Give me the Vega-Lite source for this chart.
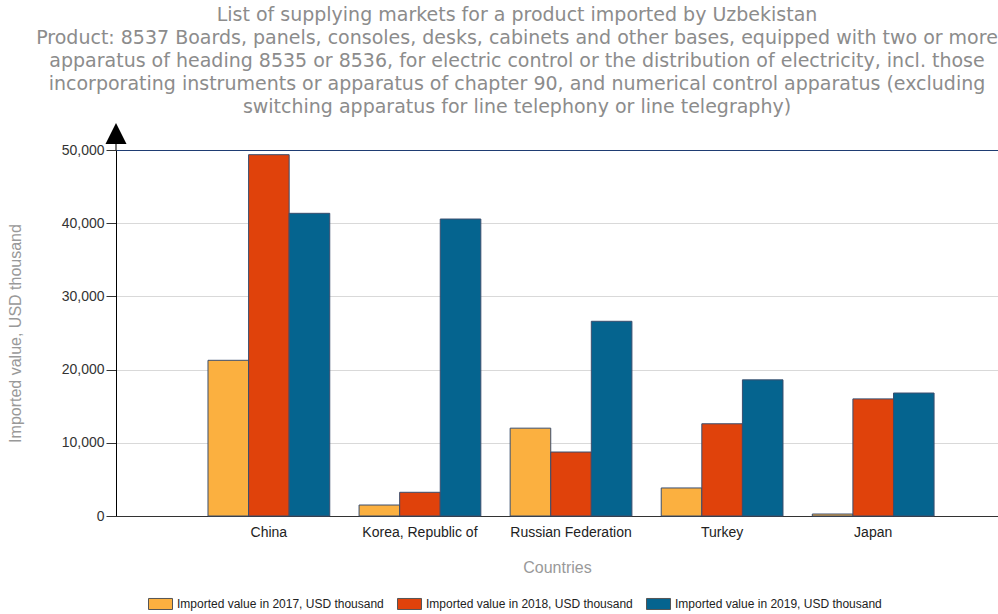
{
  "$schema": "https://vega.github.io/schema/vega-lite/v6.json",
  "width": 882,
  "height": 366,
  "autosize": {"type": "none"},
  "padding": {"left": 116, "top": 150, "right": 0, "bottom": 98},
  "background": "white",
  "title": {
    "text": [
      "List of supplying markets for a product imported by Uzbekistan",
      "Product: 8537 Boards, panels, consoles, desks, cabinets and other bases, equipped with two or more",
      "apparatus of heading 8535 or 8536, for electric control or the distribution of electricity, incl. those",
      "incorporating instruments or apparatus of chapter 90, and numerical control apparatus (excluding",
      "switching apparatus for line telephony or line telegraphy)"
    ],
    "font": "DejaVu Sans",
    "fontSize": 19,
    "fontWeight": "normal",
    "color": "#8c8c8c",
    "lineHeight": 23,
    "anchor": "middle",
    "dx": -40,
    "offset": 6
  },
  "config": {"view": {"stroke": null}},
  "layer": [
    {
      "data": {
        "values": [
          {"country": "China", "series": "Imported value in 2017, USD thousand", "value": 21270},
          {"country": "China", "series": "Imported value in 2018, USD thousand", "value": 49360},
          {"country": "China", "series": "Imported value in 2019, USD thousand", "value": 41350},
          {"country": "Korea, Republic of", "series": "Imported value in 2017, USD thousand", "value": 1500},
          {"country": "Korea, Republic of", "series": "Imported value in 2018, USD thousand", "value": 3240},
          {"country": "Korea, Republic of", "series": "Imported value in 2019, USD thousand", "value": 40570},
          {"country": "Russian Federation", "series": "Imported value in 2017, USD thousand", "value": 12000},
          {"country": "Russian Federation", "series": "Imported value in 2018, USD thousand", "value": 8740},
          {"country": "Russian Federation", "series": "Imported value in 2019, USD thousand", "value": 26600},
          {"country": "Turkey", "series": "Imported value in 2017, USD thousand", "value": 3830},
          {"country": "Turkey", "series": "Imported value in 2018, USD thousand", "value": 12600},
          {"country": "Turkey", "series": "Imported value in 2019, USD thousand", "value": 18600},
          {"country": "Japan", "series": "Imported value in 2017, USD thousand", "value": 270},
          {"country": "Japan", "series": "Imported value in 2018, USD thousand", "value": 16000},
          {"country": "Japan", "series": "Imported value in 2019, USD thousand", "value": 16800}
        ]
      },
      "mark": {"type": "bar", "stroke": "#3a4e6e", "strokeWidth": 1},
      "encoding": {
        "x": {
          "field": "country",
          "type": "nominal",
          "sort": ["China", "Korea, Republic of", "Russian Federation", "Turkey", "Japan"],
          "scale": {"paddingInner": 0.194, "paddingOuter": 0.516, "align": 0.59},
          "axis": {
            "title": "Countries",
            "labelAngle": 0,
            "ticks": false,
            "grid": false,
            "domainColor": "#333333",
            "labelFont": "Liberation Sans",
            "labelFontSize": 14,
            "labelColor": "#222222",
            "labelPadding": 9,
            "titleFont": "Liberation Sans",
            "titleFontSize": 16,
            "titleFontWeight": "normal",
            "titleColor": "#999999",
            "titlePadding": 20
          }
        },
        "xOffset": {
          "field": "series",
          "type": "nominal",
          "sort": ["Imported value in 2017, USD thousand", "Imported value in 2018, USD thousand", "Imported value in 2019, USD thousand"],
          "scale": {"paddingInner": 0, "paddingOuter": 0}
        },
        "y": {
          "field": "value",
          "type": "quantitative",
          "scale": {"domain": [0, 50000], "nice": false},
          "axis": {
            "title": "Imported value, USD thousand",
            "values": [0, 10000, 20000, 30000, 40000, 50000],
            "format": ",d",
            "domainColor": "#000000",
            "tickColor": "#333333",
            "tickSize": 10,
            "labelPadding": 2,
            "labelFont": "Liberation Sans",
            "labelFontSize": 14,
            "labelColor": "#333333",
            "gridColor": {"condition": {"test": "datum.value === 50000", "value": "#1f3d73"}, "value": "#d9d9d9"},
            "titleFont": "Liberation Sans",
            "titleFontSize": 16,
            "titleFontWeight": "normal",
            "titleColor": "#999999",
            "titlePadding": 38
          }
        },
        "color": {
          "field": "series",
          "type": "nominal",
          "scale": {
            "domain": ["Imported value in 2017, USD thousand", "Imported value in 2018, USD thousand", "Imported value in 2019, USD thousand"],
            "range": ["#FBB040", "#E0420B", "#05648F"]
          },
          "legend": {
            "title": null,
            "orient": "none",
            "legendX": 32,
            "legendY": 441,
            "direction": "horizontal",
            "symbolType": "M-1,-0.46L1,-0.46L1,0.46L-1,0.46Z",
            "symbolSize": 576,
            "symbolStrokeColor": "#555555",
            "symbolStrokeWidth": 1,
            "symbolOpacity": 1,
            "labelFont": "Liberation Sans",
            "labelFontSize": 12,
            "labelColor": "#222222",
            "labelOffset": 4,
            "labelLimit": 0,
            "columnPadding": 11
          }
        }
      }
    },
    {
      "data": {"values": [{"marker": "axis arrow"}]},
      "mark": {
        "type": "point",
        "shape": "M-1,0.7L1,0.7L0,-1.3Z M-0.05,0.7L0.05,0.7L0.05,1.3L-0.05,1.3Z",
        "size": 441,
        "filled": true,
        "color": "#000000",
        "opacity": 1,
        "strokeWidth": 0,
        "yOffset": -13.35
      },
      "encoding": {
        "x": {"value": 0},
        "y": {"datum": 50000}
      }
    }
  ]
}
